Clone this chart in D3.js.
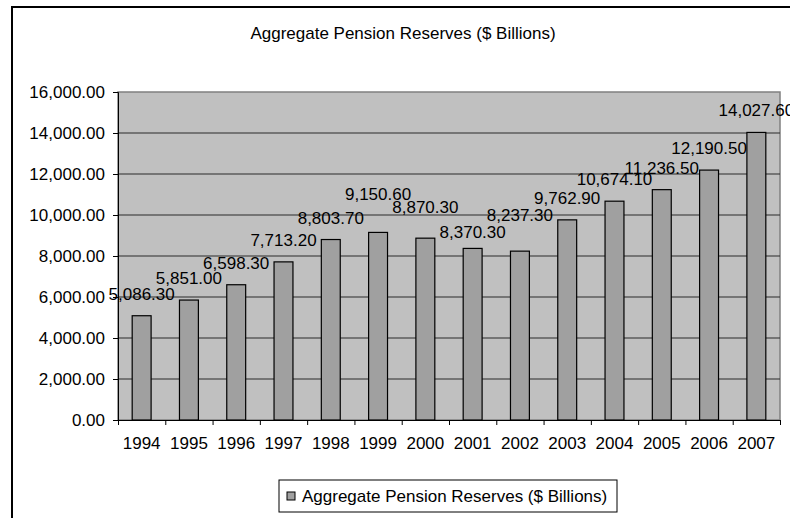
<!DOCTYPE html>
<html>
<head>
<meta charset="utf-8">
<script src="https://cdn.jsdelivr.net/npm/d3@7"></script>
<style>
  body { margin: 0; background: #fff; }
  svg text { font-family: "Liberation Sans", Arial, sans-serif; fill: #000; }
</style>
</head>
<body>
<div id="chart"></div>
<script>
var years = ["1994", "1995", "1996", "1997", "1998", "1999", "2000",
             "2001", "2002", "2003", "2004", "2005", "2006", "2007"];
var reserves = [5086.3, 5851.0, 6598.3, 7713.2, 8803.7, 9150.6, 8870.3,
                8370.3, 8237.3, 9762.9, 10674.1, 11236.5, 12190.5, 14027.6];
var yTicks = [0, 2000, 4000, 6000, 8000, 10000, 12000, 14000, 16000];
var seriesName = "Aggregate Pension Reserves ($ Billions)";

// how far each value label sits above its bar (px), a few were nudged in the original
var labelLift = [16, 16, 16, 16, 16, 32, 25, 10, 30, 16, 16, 16, 16, 16];

var outerWidth = 790;
var outerHeight = 518;
var margin = { left: 118, top: 92, right: 10, bottom: 98 };
var innerWidth = outerWidth - margin.left - margin.right;
var innerHeight = outerHeight - margin.top - margin.bottom;
var fontSize = 17;

var svg = d3.select("#chart").append("svg")
    .attr("width", outerWidth)
    .attr("height", outerHeight);

// chart frame (runs off the right and bottom edge)
svg.append("path")
    .attr("d", "M12,530 L12,7 L800,7")
    .attr("fill", "none")
    .attr("stroke", "#000")
    .attr("stroke-width", 2);

svg.append("text")
    .attr("x", 403)
    .attr("y", 39)
    .attr("text-anchor", "middle")
    .attr("font-size", fontSize)
    .text(seriesName);

var g = svg.append("g")
    .attr("transform", "translate(" + margin.left + "," + margin.top + ")");

var x = d3.scaleBand().domain(years).range([0, innerWidth])
    .paddingInner(0.6).paddingOuter(0.3);
var xIdx = d3.scaleLinear().domain([0, years.length]).range([0, innerWidth]);
var y = d3.scaleLinear().domain([0, 16000]).range([innerHeight, 0]);

g.append("rect")
    .attr("width", innerWidth)
    .attr("height", innerHeight)
    .attr("fill", "#c0c0c0")
    .attr("stroke", "#808080")
    .attr("stroke-width", 1.5);

// gridlines
g.selectAll("line.grid").data(yTicks.slice(1, -1)).enter().append("line")
    .attr("class", "grid")
    .attr("x1", 0).attr("x2", innerWidth)
    .attr("y1", function(d) { return y(d); })
    .attr("y2", function(d) { return y(d); })
    .attr("stroke", "#2a2a2a")
    .attr("stroke-width", 1);

// bars
g.selectAll("rect.bar").data(reserves).enter().append("rect")
    .attr("class", "bar")
    .attr("x", function(d, i) { return x(years[i]); })
    .attr("y", function(d) { return y(d); })
    .attr("width", x.bandwidth())
    .attr("height", function(d) { return innerHeight - y(d); })
    .attr("fill", "#a0a0a0")
    .attr("stroke", "#000")
    .attr("stroke-width", 1.2);

// data labels
var fmt = d3.format(",.2f");
g.selectAll("text.val").data(reserves).enter().append("text")
    .attr("class", "val")
    .attr("x", function(d, i) { return x(years[i]) + x.bandwidth() / 2; })
    .attr("y", function(d, i) { return y(d) - labelLift[i]; })
    .attr("text-anchor", "middle")
    .attr("font-size", fontSize)
    .text(function(d) { return fmt(d); });

// y axis
var yAxis = d3.axisLeft(y).tickValues(yTicks).tickSize(5).tickPadding(8)
    .tickFormat(fmt);
var yAxisG = g.append("g").call(yAxis);
yAxisG.select(".domain").attr("stroke", "#000");
yAxisG.selectAll("text").attr("font-size", fontSize).attr("font-family", null);

// x axis: ticks at category boundaries, labels centered
var xTickG = g.append("g")
    .attr("transform", "translate(0," + innerHeight + ")")
    .call(d3.axisBottom(xIdx).tickValues(d3.range(years.length + 1))
        .tickSize(5).tickFormat(""));
xTickG.select(".domain").attr("stroke", "#000");

var xLabelG = g.append("g")
    .attr("transform", "translate(0," + innerHeight + ")")
    .call(d3.axisBottom(x).tickSize(0).tickPadding(17));
xLabelG.select(".domain").remove();
xLabelG.selectAll("text").attr("font-size", fontSize).attr("font-family", null);

// legend
var legend = svg.append("g").attr("transform", "translate(279,480)");
legend.append("rect")
    .attr("width", 338).attr("height", 32)
    .attr("fill", "#fff").attr("stroke", "#000").attr("stroke-width", 1);
legend.append("rect")
    .attr("x", 8).attr("y", 12).attr("width", 8).attr("height", 8)
    .attr("fill", "#a0a0a0").attr("stroke", "#000");
legend.append("text")
    .attr("x", 23).attr("y", 22)
    .attr("font-size", fontSize)
    .text(seriesName);
</script>
</body>
</html>
